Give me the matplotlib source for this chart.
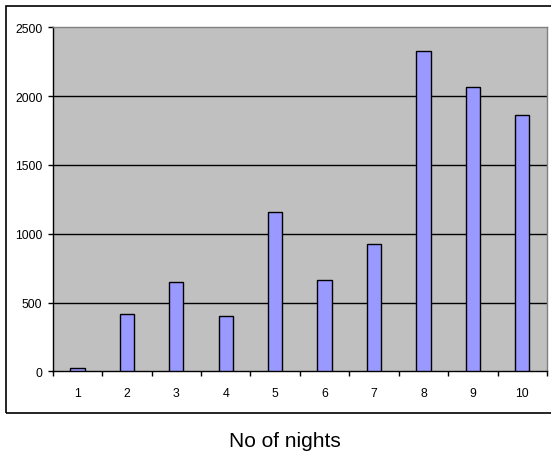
import matplotlib
matplotlib.use("Agg")
import matplotlib.pyplot as plt
from matplotlib.patches import Rectangle
from matplotlib.ticker import FixedLocator, NullFormatter

categories = ["1", "2", "3", "4", "5", "6", "7", "8", "9", "10"]
values = [22, 418, 647, 400, 1155, 666, 927, 2330, 2068, 1865]
y_ticks = [0, 500, 1000, 1500, 2000, 2500]
x_label = "No of nights"

plt.rcParams['font.family'] = ['Liberation Sans', 'DejaVu Sans']

fig = plt.figure(figsize=(5.51, 4.56), dpi=100)
W, H = 551, 456
ax = fig.add_axes([52.7 / W, 1 - 372.3 / H, (547 - 52.7) / W, (372.3 - 28.3) / H])

# outer chart border
fig.patches.append(Rectangle((5.5 / W, 1 - 414 / H), (560 - 5.5) / W, (414 - 6.7) / H,
                             transform=fig.transFigure, fill=False,
                             edgecolor='black', linewidth=1.2))

ax.set_facecolor('#C0C0C0')
x = list(range(len(categories)))
ax.bar(x, values, width=0.29, color='#9999FF', edgecolor='black', linewidth=1.0, zorder=3)

ax.set_xlim(-0.5, len(categories) - 0.5)
ax.set_ylim(0, 2500)
ax.set_yticks(y_ticks)
ax.set_yticklabels([str(v) for v in y_ticks], fontsize=8.8)
ax.set_xticks(x)
ax.set_xticklabels(categories, fontsize=8.8)
ax.tick_params(axis='x', which='major', length=0, pad=11)
ax.xaxis.set_minor_locator(FixedLocator([i - 0.5 for i in range(len(categories) + 1)]))
ax.xaxis.set_minor_formatter(NullFormatter())
ax.tick_params(axis='x', which='minor', direction='out', length=3.6, width=1, color='black')
ax.tick_params(axis='y', direction='out', length=3.4, width=1, pad=4)

for yv in y_ticks[1:-1]:
    ax.axhline(yv, color='black', linewidth=1.0, zorder=1)

for side in ['top', 'right']:
    ax.spines[side].set_color('#808080')
    ax.spines[side].set_linewidth(1.0)
for side in ['left', 'bottom']:
    ax.spines[side].set_color('black')
    ax.spines[side].set_linewidth(1.0)

fig.text(285 / W, 1 - 442 / H, x_label, ha='center', va='center', fontsize=15)

fig.savefig("out.png", dpi=100)
